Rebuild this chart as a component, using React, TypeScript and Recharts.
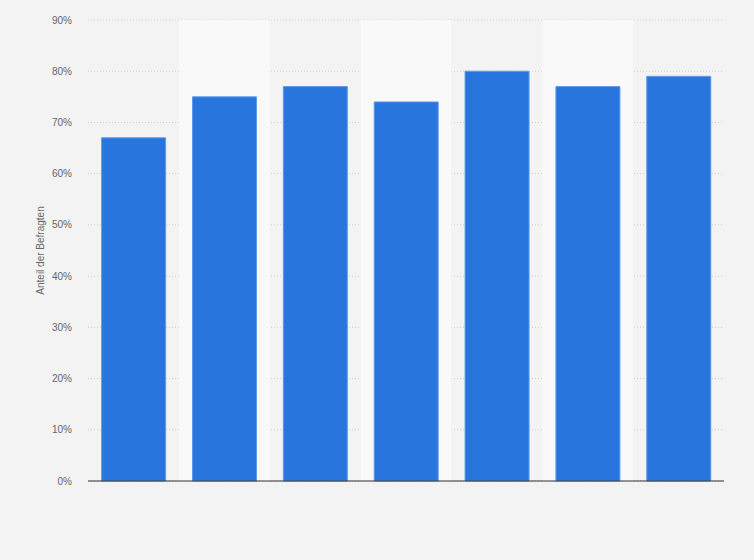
import React from "react";
import { BarChart, Bar, XAxis, YAxis, CartesianGrid, ReferenceArea } from "recharts";

const categories = ["1", "2", "3", "4", "5", "6", "7"];
const values = [67, 75, 77, 74, 80, 77, 79];
const yTicks = [0, 10, 20, 30, 40, 50, 60, 70, 80, 90];
const bandCategories = ["2", "4", "6"];

const data = categories.map((c, i) => ({ name: c, value: values[i] }));

export default function App() {
  return (
    <div style={{ position: "absolute", left: 0, top: 0, width: 754, height: 560, background: "#f3f3f3" }}>
      <BarChart
        width={754}
        height={560}
        data={data}
        margin={{ top: 20, right: 30, left: 0, bottom: 75 }}
        barCategoryGap="15%"
      >
        {bandCategories.map((c) => (
          <ReferenceArea key={c} x1={c} x2={c} fill="#f9f9f9" fillOpacity={1} stroke="none" ifOverflow="extendDomain" />
        ))}
        <CartesianGrid vertical={false} stroke="#cfcfcf" strokeDasharray="1 2" />
        <XAxis dataKey="name" tick={false} tickLine={false} height={4} axisLine={{ stroke: "#333", strokeWidth: 1.2 }} />
        <YAxis
          width={88}
          domain={[0, 90]}
          ticks={yTicks}
          interval={0}
          tickFormatter={(v: number) => `${v}%`}
          axisLine={false}
          tickLine={false}
          tickSize={0}
          tickMargin={16}
          tick={{ fill: "#666", fontSize: 10, fontFamily: "Liberation Sans, Arial, sans-serif" }}
          label={{
            value: "Anteil der Befragten",
            angle: -90,
            position: "center",
            dx: -4,
            style: { fill: "#666", fontSize: 10, fontFamily: "Liberation Sans, Arial, sans-serif", textAnchor: "middle" },
          }}
        />
        <Bar dataKey="value" fill="#2876dd" stroke="#5e9be8" strokeWidth={1} isAnimationActive={false} />
      </BarChart>
    </div>
  );
}
